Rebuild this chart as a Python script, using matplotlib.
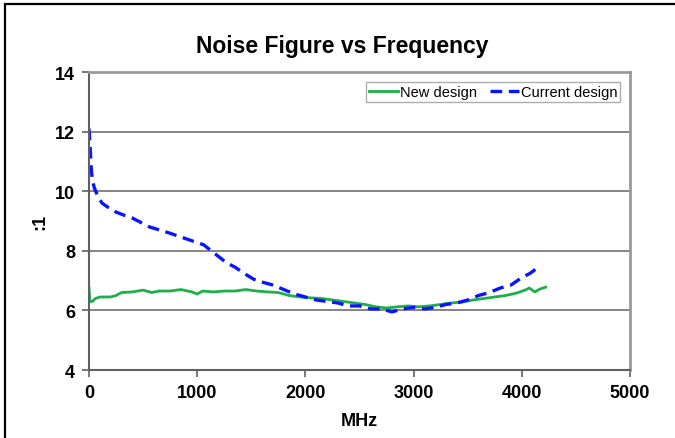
# Noise figure vs frequency
import matplotlib
matplotlib.use('Agg')
import matplotlib.pyplot as plt
from matplotlib.patches import Rectangle

# Datos
freq_current = [0, 10, 20, 30, 50, 80, 120, 180, 250, 320, 400, 480, 560, 650, 740,
                820, 900, 980, 1060, 1130, 1200, 1270, 1350, 1430, 1520, 1600, 1700,
                1800, 1900, 2000, 2100, 2200, 2300, 2400, 2500, 2600, 2700, 2800,
                2900, 3000, 3100, 3200, 3300, 3400, 3500, 3600, 3700, 3800, 3900,
                4000, 4080, 4150]
nf_current = [12.1, 11.5, 10.8, 10.4, 10.1, 9.85, 9.6, 9.45, 9.3, 9.2, 9.1, 8.95, 8.8,
              8.7, 8.6, 8.5, 8.4, 8.3, 8.2, 8.0, 7.8, 7.6, 7.45, 7.25, 7.05, 6.95, 6.85,
              6.7, 6.55, 6.45, 6.35, 6.3, 6.25, 6.15, 6.15, 6.05, 6.05, 5.95, 6.05,
              6.1, 6.05, 6.1, 6.2, 6.25, 6.35, 6.5, 6.6, 6.75, 6.85, 7.1, 7.25, 7.45]

freq_new = [0, 8, 30, 60, 100, 150, 200, 250, 300, 400, 500, 580, 650, 750, 850, 950,
            1000, 1050, 1150, 1250, 1350, 1450, 1550, 1650, 1750, 1850, 1950, 2050,
            2150, 2250, 2350, 2450, 2550, 2650, 2750, 2850, 2950, 3050, 3150, 3250,
            3350, 3450, 3550, 3650, 3750, 3850, 3950, 4030, 4070, 4120, 4170, 4220]
nf_new = [6.75, 6.3, 6.3, 6.4, 6.45, 6.45, 6.45, 6.5, 6.6, 6.62, 6.68, 6.6, 6.65, 6.65,
          6.7, 6.62, 6.55, 6.65, 6.62, 6.65, 6.65, 6.7, 6.65, 6.62, 6.6, 6.5, 6.45,
          6.42, 6.4, 6.35, 6.3, 6.25, 6.2, 6.12, 6.08, 6.12, 6.15, 6.12, 6.15, 6.2,
          6.25, 6.28, 6.35, 6.4, 6.45, 6.5, 6.58, 6.68, 6.75, 6.62, 6.72, 6.78]

x_ticks = [0, 1000, 2000, 3000, 4000, 5000]
y_ticks = [4, 6, 8, 10, 12, 14]

plt.rcParams['font.family'] = ['Liberation Sans', 'DejaVu Sans']

fig = plt.figure(figsize=(6.75, 4.39), dpi=100)
ax = fig.add_axes([89 / 675, 1 - 371 / 439, 541 / 675, 298 / 439])

# Marco negro exterior
fig.patches.append(Rectangle((5 / 675, -0.1), 1.2, 1.1 - 5 / 439,
                             transform=fig.transFigure, fill=False,
                             edgecolor='black', linewidth=1.6))

ax.plot(freq_new, nf_new, color='#1faf4a', linewidth=2.0, label='New design')
ax.plot(freq_current, nf_current, color='#0a14ff', linewidth=2.4,
        dashes=(3.5, 2), label='Current design')

ax.set_xlim(0, 5000)
ax.set_ylim(4, 14)
ax.set_xticks(x_ticks)
ax.set_yticks(y_ticks)
ax.tick_params(labelsize=13, length=5, width=1.2, color='#606060', pad=5)
for lab in ax.get_xticklabels() + ax.get_yticklabels():
    lab.set_fontweight('bold')

ax.grid(axis='y', color='#707070', linewidth=1.2)
ax.set_axisbelow(True)
for side in ['left', 'bottom']:
    ax.spines[side].set_color('#606060')
    ax.spines[side].set_linewidth(1.5)
for side in ['top', 'right']:
    ax.spines[side].set_color('#999999')
    ax.spines[side].set_linewidth(2)

ax.set_xlabel('MHz', fontsize=13, fontweight='bold', labelpad=8)
ax.set_ylabel(':1', fontsize=13, fontweight='bold', labelpad=5)
fig.text(342 / 675, 1 - 47 / 439, 'Noise Figure vs Frequency', ha='center',
         va='center', fontsize=16.5, fontweight='bold')

leg = ax.legend(loc='upper right', ncol=2, fontsize=10.5, frameon=True, fancybox=False,
                handlelength=2.0, handletextpad=0.1, columnspacing=0.9,
                borderpad=0.2, bbox_to_anchor=(0.995, 0.99))
leg.get_frame().set_edgecolor('#999999')
leg.get_frame().set_linewidth(1)

fig.savefig('out.png', dpi=100)
